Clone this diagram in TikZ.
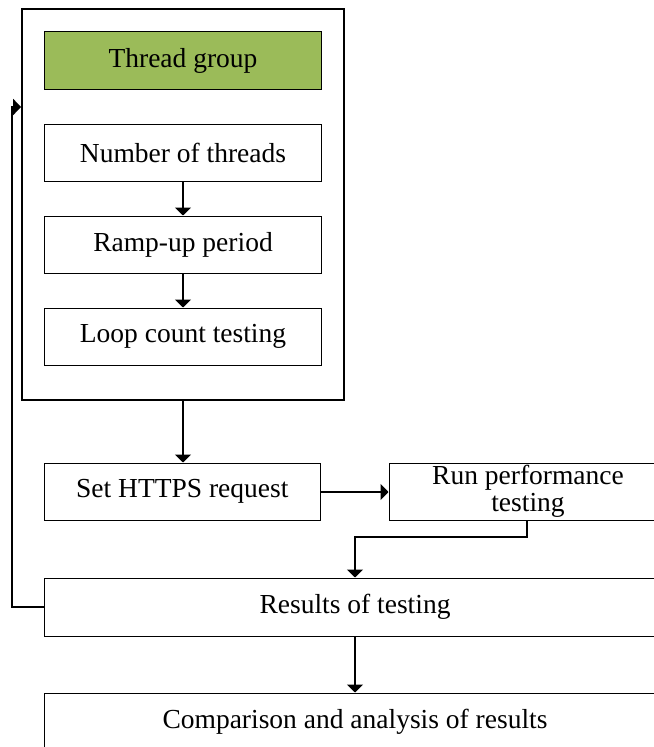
\documentclass[tikz,border=0pt]{standalone}
\usepackage{fontspec}
\setmainfont{Liberation Serif}
\usetikzlibrary{arrows.meta,calc}
\definecolor{tgreen}{HTML}{9BBB59}
\begin{document}
\begin{tikzpicture}[x=1bp,y=-1bp,
  box/.style={draw=black,line width=1bp,rectangle,inner sep=0pt,
    minimum width=276bp,minimum height=57bp,
    font=\fontsize{27.5bp}{27bp}\selectfont,align=center},
  conn/.style={line width=1.9bp,-{Triangle[width=16bp,length=8bp]}}]
\useasboundingbox (0,0) rectangle (654,747);
\clip (0,0) rectangle (654,747);
\fill[white] (0,0) rectangle (654,747);
\node[draw=black,line width=1.8bp,rectangle,inner sep=0pt,minimum width=322bp,minimum height=391bp] (outer) at (183,204.5) {};
\node[box,fill=tgreen] (thread) at (183,60.5) {Thread group};
\node[box] (num) at (183,152.5) {Number of threads};
\node[box] (ramp) at (183,244.5) {Ramp-up period};
\node[box] (loop) at (183,336.5) {Loop count testing};
\node[box,minimum width=275.4bp] (https) at (182.3,491.5) {Set HTTPS request};
\node[box,minimum width=278bp] (run) at (528,491.5) {Run performance\\testing};
\node[box,minimum width=621bp,minimum height=58bp] (results) at (355,607) {Results of testing};
\node[box,minimum width=621bp,minimum height=58bp] (comp) at (355,722) {Comparison and analysis of results};
\draw[conn] (num.south) -- (ramp.north);
\draw[conn] (ramp.south) -- (loop.north);
\draw[conn] (outer.south) -- (outer.south |- https.north);
\coordinate (hy) at (0,492);
\draw[conn] (https.east |- hy) -- (run.west |- hy);
\coordinate (rbend) at (527,537);
\draw[conn] (run.south -| rbend) -- (rbend) -| (results.north);
\draw[conn] (results.south) -- (comp.north);
\coordinate (lp) at (12,107);
\draw[conn] (results.west) -| (lp) -- (outer.west |- lp);
\end{tikzpicture}
\end{document}
